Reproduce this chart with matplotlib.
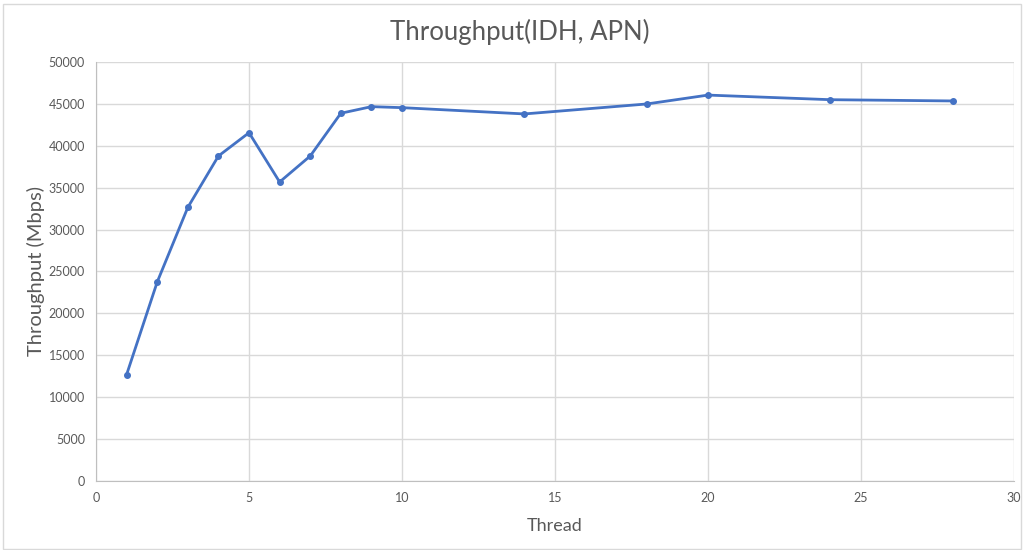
import matplotlib.pyplot as plt
from matplotlib.patches import Rectangle

threads = [1, 2, 3, 4, 5, 6, 7, 8, 9, 10, 14, 18, 20, 24, 28]
throughput_mbps = [12700, 23750, 32650, 38780, 41560, 35680, 38780, 43880,
                   44670, 44550, 43800, 44990, 46050, 45500, 45350]
x_ticks = [0, 5, 10, 15, 20, 25, 30]
y_ticks = list(range(0, 50001, 5000))

LINE = "#4472C4"
TEXT = "#595959"
GRID = "#d9d9d9"

plt.rcParams["font.family"] = ["Lato", "DejaVu Sans"]

fig = plt.figure(figsize=(10.26, 5.5), dpi=100)
ax = fig.add_axes([0.0936, 0.1255, 0.8947, 0.7618])

# chart frame
fig.patches.append(Rectangle((0.003, 0.002), 0.992, 0.99, transform=fig.transFigure,
                             fill=False, edgecolor="#d9d9d9", linewidth=1))

ax.plot(threads, throughput_mbps, color=LINE, linewidth=2, marker="o",
        markersize=4, zorder=3)

ax.set_xlim(0, 30)
ax.set_ylim(0, 50000)
ax.set_xticks(x_ticks)
ax.set_yticks(y_ticks)
ax.grid(True, color=GRID, linewidth=1)
ax.set_axisbelow(True)
for side in ("top", "right"):
    ax.spines[side].set_visible(False)
for side in ("left", "bottom"):
    ax.spines[side].set_color("#bfbfbf")
ax.tick_params(length=0, labelsize=9, colors=TEXT, pad=8)

fig.text(0.507, 0.942, "Throughput(IDH, APN)", fontsize=18.5, color=TEXT,
         ha="center", va="center")
ax.set_xlabel("Thread", fontsize=13, color=TEXT, labelpad=10)
ax.set_ylabel("Throughput (Mbps)", fontsize=14.5, color=TEXT)
ax.yaxis.set_label_coords(-0.056, 0.5)

fig.savefig("out.png", dpi=100)
